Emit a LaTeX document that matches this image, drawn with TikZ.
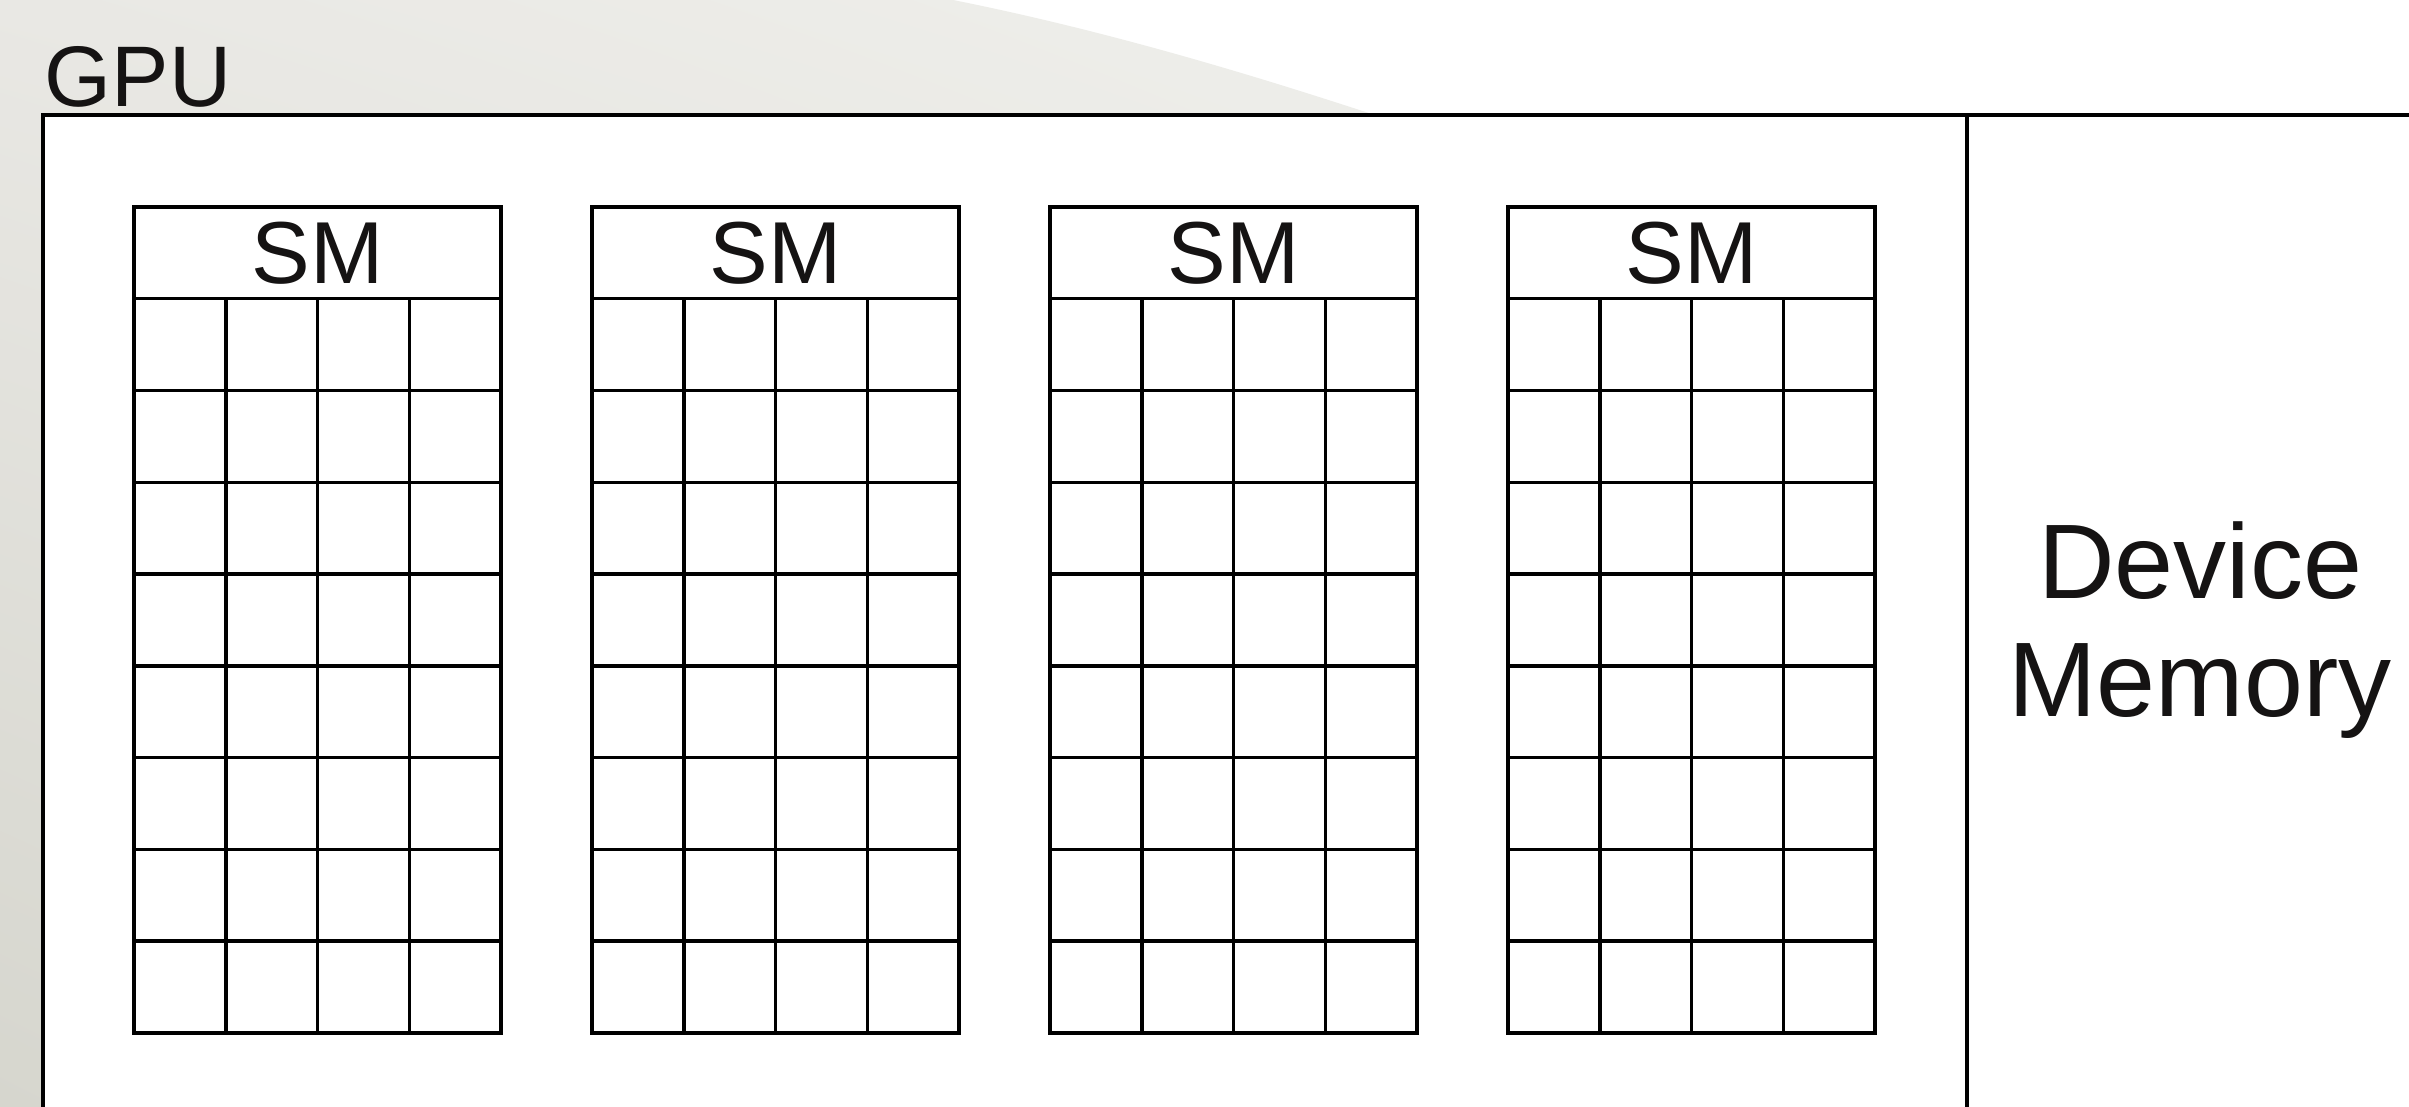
\documentclass[tikz,border=0pt]{standalone}
\usepackage{fontspec}
\usetikzlibrary{shadings}
\setmainfont{Liberation Sans}
\definecolor{bgul}{HTML}{E9E8E4}
\definecolor{bgur}{HTML}{EFEFEB}
\definecolor{bgll}{HTML}{D6D6CE}
\definecolor{bglr}{HTML}{E2E2DC}
\definecolor{ink}{HTML}{151313}
\begin{document}
\begin{tikzpicture}[x=1pt,y=-1pt,line width=3.5pt,
  smhead/.style={draw, rectangle, anchor=north west, minimum width=367pt,
    minimum height=91.75pt, inner sep=0pt, outer sep=0pt, text=ink,
    font=\fontsize{88}{88}\selectfont},
  gridline/.style={draw=black, line width=3.5pt}]
\useasboundingbox (0,0) rectangle (2409,1107);
\clip (0,0) rectangle (2409,1107);
\fill[white] (0,0) rectangle (2409,1107);
% background swoosh
\begin{scope}
  \clip (0,0) -- (953,0) .. controls (1133,36) and (1300,90) .. (1420,130)
        -- (1420,1107) -- (0,1107) -- cycle;
  \shade[upper left=bgul, upper right=bgur, lower left=bgll, lower right=bglr]
        (0,0) rectangle (1420,1107);
\end{scope}
% GPU box
\node[draw, fill=white, anchor=north west, minimum width=2500pt,
      minimum height=1100pt, inner sep=0pt, outer sep=0pt] (gpu) at (43,115) {};
\node[anchor=base west, inner sep=0pt, text=ink,
      font=\fontsize{86}{86}\selectfont] (gpulabel) at (43,107) {GPU};
% divider
\coordinate (dtop) at (1967,115);
\coordinate (dbot) at (1967,1130);
\draw (dtop) -- (dbot);
\node[align=center, inner sep=0pt, text=ink,
      font=\fontsize{106}{118}\selectfont] (devmem) at (2200,630) {Device\\Memory};
% SMs
\foreach \k in {0,1,2,3}{
  \pgfmathsetmacro{\xa}{134+458*\k}
  \node[smhead] (sm\k) at (\xa,207) {SM};
  \coordinate (smbl\k) at (\xa,1032.75);
  \coordinate (smbr\k) at (\xa+367,1032.75);
  \draw[gridline] (sm\k.south west) -- (smbl\k) -- (smbr\k) -- (sm\k.south east);
  \foreach \i in {1,2,3}{
    \draw[gridline] (\xa+91.75*\i,298.75) -- (\xa+91.75*\i,1032.75);
  }
  \foreach \j in {1,...,7}{
    \draw[gridline] (\xa,298.75+91.75*\j) -- (\xa+367,298.75+91.75*\j);
  }
}
\end{tikzpicture}
\end{document}
